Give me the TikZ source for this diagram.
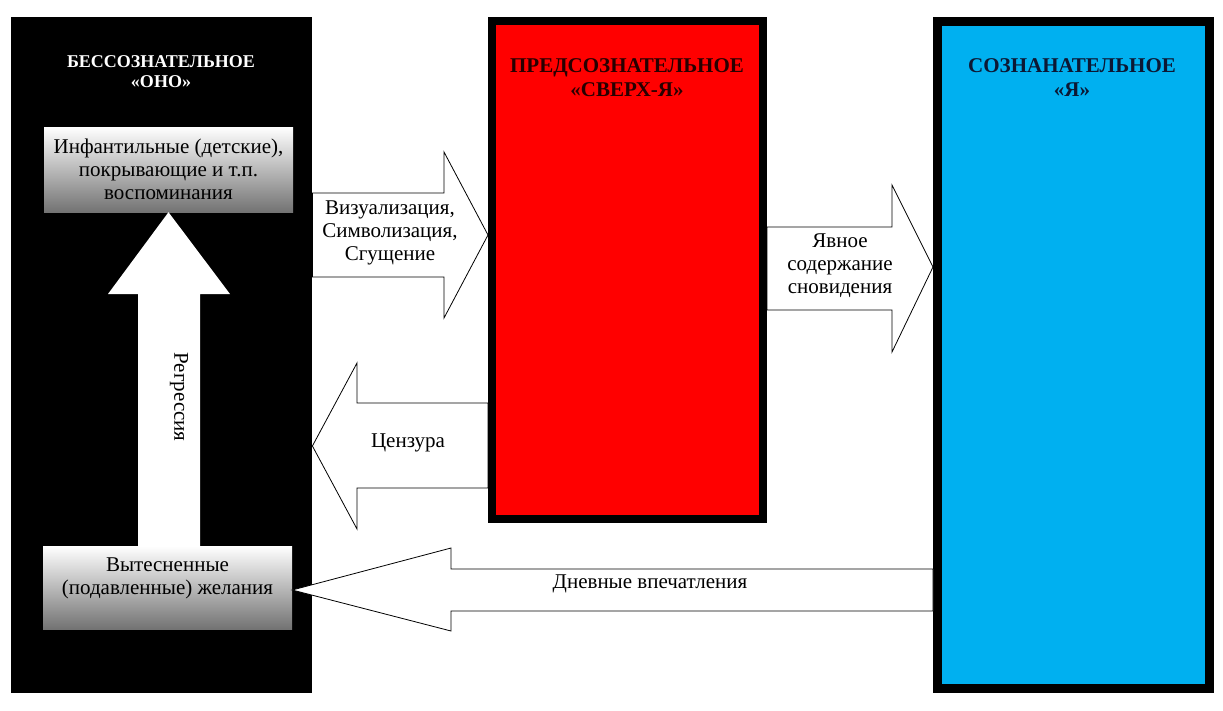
\documentclass[tikz,border=0pt]{standalone}
\usepackage{fontspec}
\setmainfont{Liberation Serif}
\usetikzlibrary{calc}
\pgfdeclarelayer{bg}
\pgfsetlayers{bg,main}
\definecolor{redbox}{RGB}{255,0,0}
\definecolor{bluebox}{RGB}{0,176,240}
\definecolor{navytxt}{RGB}{12,24,52}
\definecolor{darkredtxt}{RGB}{40,0,0}
\begin{document}
\begin{tikzpicture}[x=1pt,y=-1pt,
  txt/.style={font=\fontsize{21}{23}\selectfont, align=center, inner sep=0pt},
  ttl/.style={font=\fontsize{21}{24}\selectfont\bfseries, align=center, inner sep=0pt},
  blockarrow/.style={draw=black, line width=0.8pt, fill=white, line join=miter},
  gradbox/.style={top color=white, bottom color=black!55, inner sep=0pt, draw=none},
  zonebox/.style={inner sep=0pt, anchor=north west},
]
\useasboundingbox (0,0) rectangle (1223,710);

% zones
\node[zonebox, fill=black, minimum width=301pt, minimum height=676pt] (ono) at (11,17) {};
\node[zonebox, draw=black, line width=8pt, fill=redbox, minimum width=271pt, minimum height=498pt] (pre) at (488,17) {};
\node[zonebox, draw=black, line width=9pt, fill=bluebox, minimum width=271.5pt, minimum height=667pt] (soz) at (933,17) {};

% titles
\node[ttl, text=white, font=\fontsize{18}{20}\selectfont\bfseries] (onot) at (161,72) {БЕССОЗНАТЕЛЬНОЕ\\«ОНО»};
\node[ttl, text=darkredtxt] (pret) at (627,78) {ПРЕДСОЗНАТЕЛЬНОЕ\\«СВЕРХ-Я»};
\node[ttl, text=navytxt] (sozt) at (1072,78) {СОЗНАНАТЕЛЬНОЕ\\«Я»};

% inner boxes
\node[gradbox, txt, minimum width=249pt, minimum height=85pt] (inf) at (168.5,169.5) {Инфантильные (детские),\\покрывающие и т.п.\\воспоминания};
\node[gradbox, minimum width=249pt, minimum height=83pt] (des) at (167.5,587.5) {};
\node[txt] (dest) at (167.5,578) {Вытесненные\\(подавленные) желания};

% regression arrow
\fill[white] (inf.south) -- (230,294) -- (200,294) -- (des.north -| 200,0) -- (des.north -| 138,0) -- (138,294) -- (108,294) -- cycle;
\node[txt, rotate=-90] (reg) at (179,397) {Регрессия};

% block arrows between zones
\begin{pgfonlayer}{bg}
\fill[white] (0,0) rectangle (1223,710);
\draw[blockarrow] (ono.east |- 0,193) -- (444,193) -- (444,152) -- (pre.west |- 0,235) -- (444,318) -- (444,277) -- (ono.east |- 0,277) -- cycle;
\draw[blockarrow] (pre.east |- 0,227) -- (892,227) -- (892,185) -- (soz.west |- 0,267) -- (892,352) -- (892,310) -- (pre.east |- 0,310) -- cycle;
\draw[blockarrow] (pre.west |- 0,403) -- (357,403) -- (357,363) -- (ono.east |- 0,446) -- (357,529) -- (357,488) -- (pre.west |- 0,488) -- cycle;
\end{pgfonlayer}
\draw[blockarrow] (soz.west |- 0,569) -- (451,569) -- (451,548) -- (des.east |- 0,590) -- (451,631) -- (451,611) -- (soz.west |- 0,611) -- cycle;

% arrow labels
\node[txt] (vist) at (390,233) {Визуализация,\\Символизация,\\Сгущение};
\node[txt] (yavt) at (840,266) {Явное\\содержание\\сновидения};
\node[txt] (cent) at (408,443) {Цензура};
\node[txt] (dnevt) at (650,584) {Дневные впечатления};
\end{tikzpicture}
\end{document}
